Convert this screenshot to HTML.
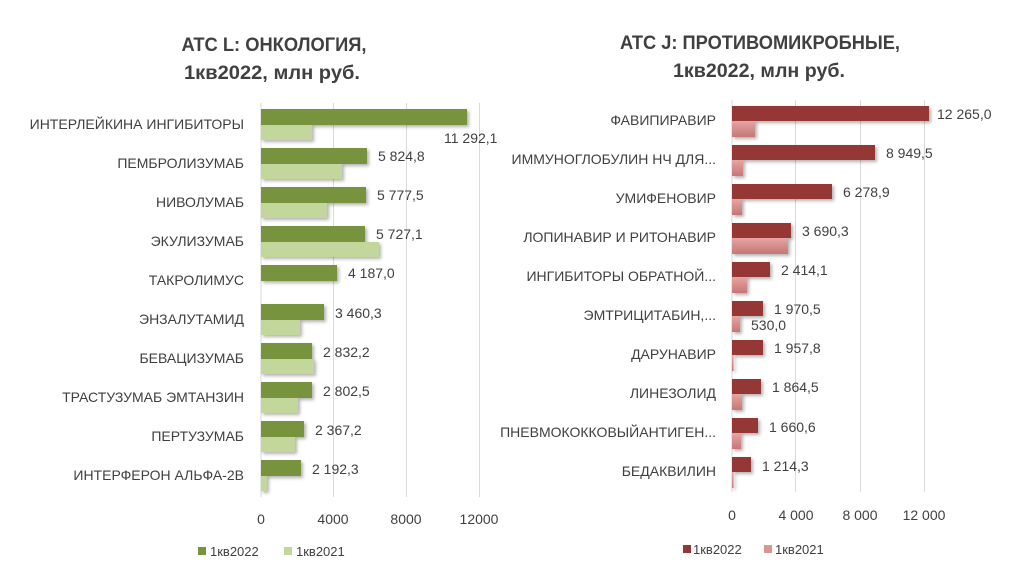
<!DOCTYPE html>
<html><head><meta charset="utf-8"><style>
html,body{margin:0;padding:0;background:#fff;}
svg{display:block;font-family:"Liberation Sans",sans-serif;}
</style></head><body>
<svg width="1030" height="582" viewBox="0 0 1030 582" xmlns="http://www.w3.org/2000/svg">
<defs>
<filter id="sh" x="-5%" y="-20%" width="115%" height="160%"><feDropShadow dx="2" dy="2" stdDeviation="1.5" flood-color="#000" flood-opacity="0.3"/></filter>
<linearGradient id="lr" x1="0" y1="0" x2="0" y2="1"><stop offset="0" stop-color="#e6a5a3"/><stop offset="1" stop-color="#c47775"/></linearGradient>
</defs>
<rect width="1030" height="582" fill="#fff"/>
<g font-weight="bold" font-size="19" fill="#404040" text-anchor="middle">
<text x="274" y="51" textLength="185" lengthAdjust="spacingAndGlyphs">ATC L: ОНКОЛОГИЯ,</text>
<text x="272" y="79" textLength="176" lengthAdjust="spacingAndGlyphs">1кв2022, млн руб.</text>
<text x="760" y="49" textLength="280" lengthAdjust="spacingAndGlyphs">ATC J: ПРОТИВОМИКРОБНЫЕ,</text>
<text x="759" y="77" textLength="172" lengthAdjust="spacingAndGlyphs">1кв2022, млн руб.</text>
</g>
<!-- left grid -->
<g stroke="#d9d9d9" stroke-width="1">
<line x1="333.5" y1="103" x2="333.5" y2="497"/><line x1="406.5" y1="103" x2="406.5" y2="497"/><line x1="479.5" y1="103" x2="479.5" y2="497"/>
<line x1="795.5" y1="100" x2="795.5" y2="492"/><line x1="860.5" y1="100" x2="860.5" y2="492"/><line x1="924.5" y1="100" x2="924.5" y2="492"/>
<line x1="261" y1="103" x2="261" y2="497"/><line x1="732" y1="100" x2="732" y2="492"/>
</g>
<!-- left bars -->
<g filter="url(#sh)">
<g fill="#c3d69b">
<rect x="261" y="125" width="51" height="15"/>
<rect x="261" y="164" width="81" height="15"/>
<rect x="261" y="203" width="66" height="15"/>
<rect x="261" y="242" width="118" height="15"/>
<rect x="261" y="320" width="39" height="15"/>
<rect x="261" y="359" width="53" height="15"/>
<rect x="261" y="398" width="37" height="15"/>
<rect x="261" y="437" width="34" height="15"/>
<rect x="261" y="476" width="6" height="15"/>
</g>
<g fill="#77933c">
<rect x="261" y="109" width="206" height="16"/>
<rect x="261" y="148" width="106" height="16"/>
<rect x="261" y="187" width="105" height="16"/>
<rect x="261" y="226" width="104" height="16"/>
<rect x="261" y="265" width="76" height="16"/>
<rect x="261" y="304" width="63" height="16"/>
<rect x="261" y="343" width="51" height="16"/>
<rect x="261" y="382" width="51" height="16"/>
<rect x="261" y="421" width="43" height="16"/>
<rect x="261" y="460" width="40" height="16"/>
</g>
</g>
<g font-size="14" fill="#404040">
<g text-anchor="end">
<text x="244" y="129">ИНТЕРЛЕЙКИНА ИНГИБИТОРЫ</text>
<text x="244" y="168">ПЕМБРОЛИЗУМАБ</text>
<text x="244" y="207">НИВОЛУМАБ</text>
<text x="244" y="246">ЭКУЛИЗУМАБ</text>
<text x="244" y="285">ТАКРОЛИМУС</text>
<text x="244" y="324">ЭНЗАЛУТАМИД</text>
<text x="244" y="363">БЕВАЦИЗУМАБ</text>
<text x="244" y="402">ТРАСТУЗУМАБ ЭМТАНЗИН</text>
<text x="244" y="441">ПЕРТУЗУМАБ</text>
<text x="244" y="480">ИНТЕРФЕРОН АЛЬФА-2В</text>
</g>
<text x="444" y="143">11 292,1</text>
<text x="378" y="161">5 824,8</text>
<text x="377" y="200">5 777,5</text>
<text x="376" y="239">5 727,1</text>
<text x="348" y="278">4 187,0</text>
<text x="335" y="318">3 460,3</text>
<text x="323" y="357">2 832,2</text>
<text x="323" y="396">2 802,5</text>
<text x="315" y="435">2 367,2</text>
<text x="312" y="474">2 192,3</text>
<g text-anchor="middle">
<text x="261" y="524">0</text><text x="333" y="524">4000</text><text x="406" y="524">8000</text><text x="479" y="524">12000</text>
</g>
<rect x="198" y="547" width="8" height="8" fill="#77933c"/><text x="210" y="556" font-size="13">1кв2022</text>
<rect x="284" y="547" width="8" height="8" fill="#c3d69b"/><text x="296" y="556" font-size="13">1кв2021</text>
</g>
<!-- right bars -->
<g filter="url(#sh)">
<g fill="url(#lr)">
<rect x="732" y="121" width="23" height="16"/>
<rect x="732" y="160" width="11" height="16"/>
<rect x="732" y="199" width="10" height="16"/>
<rect x="732" y="238" width="56" height="16"/>
<rect x="732" y="277" width="15" height="16"/>
<rect x="732" y="316" width="8" height="16"/>
<rect x="732" y="355" width="1.5" height="16"/>
<rect x="732" y="394" width="10" height="16"/>
<rect x="732" y="433" width="9" height="16"/>
<rect x="732" y="472" width="1.5" height="16"/>
</g>
<g fill="#953735">
<rect x="732" y="106" width="197" height="15"/>
<rect x="732" y="145" width="143" height="15"/>
<rect x="732" y="184" width="100" height="15"/>
<rect x="732" y="223" width="59" height="15"/>
<rect x="732" y="262" width="38" height="15"/>
<rect x="732" y="301" width="31" height="15"/>
<rect x="732" y="340" width="31" height="15"/>
<rect x="732" y="379" width="29" height="15"/>
<rect x="732" y="418" width="26" height="15"/>
<rect x="732" y="457" width="19" height="15"/>
</g>
</g>
<g font-size="14" fill="#404040">
<g text-anchor="end">
<text x="716" y="125">ФАВИПИРАВИР</text>
<text x="716" y="164">ИММУНОГЛОБУЛИН НЧ ДЛЯ...</text>
<text x="716" y="203">УМИФЕНОВИР</text>
<text x="716" y="242">ЛОПИНАВИР И РИТОНАВИР</text>
<text x="716" y="281">ИНГИБИТОРЫ ОБРАТНОЙ...</text>
<text x="716" y="320">ЭМТРИЦИТАБИН,...</text>
<text x="716" y="359">ДАРУНАВИР</text>
<text x="716" y="398">ЛИНЕЗОЛИД</text>
<text x="716" y="437">ПНЕВМОКОККОВЫЙАНТИГЕН...</text>
<text x="716" y="476">БЕДАКВИЛИН</text>
</g>
<text x="937" y="119">12 265,0</text>
<text x="886" y="158">8 949,5</text>
<text x="843" y="197">6 278,9</text>
<text x="802" y="236">3 690,3</text>
<text x="781" y="275">2 414,1</text>
<text x="774" y="314">1 970,5</text>
<text x="751" y="330">530,0</text>
<text x="774" y="353">1 957,8</text>
<text x="772" y="392">1 864,5</text>
<text x="769" y="432">1 660,6</text>
<text x="762" y="471">1 214,3</text>
<g text-anchor="middle">
<text x="732" y="520">0</text><text x="796" y="520">4 000</text><text x="860" y="520">8 000</text><text x="924" y="520">12 000</text>
</g>
<rect x="683" y="545" width="8" height="8" fill="#953735"/><text x="693" y="554" font-size="13">1кв2022</text>
<rect x="764" y="545" width="8" height="8" fill="#d99694"/><text x="775" y="554" font-size="13">1кв2021</text>
</g>
</svg>
</body></html>
